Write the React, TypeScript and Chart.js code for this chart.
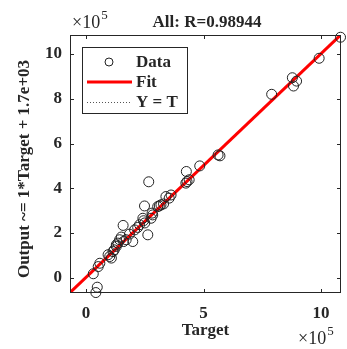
import React, { useEffect, useRef } from "react";
import { Chart, registerables } from "chart.js";

Chart.register(...registerables);

// values in units of 1e5
const targets = [
  0.42, 0.48, 0.31, 0.52, 0.59, 0.94, 1.01, 1.08, 1.15, 1.2, 1.29, 1.29, 1.36, 1.43, 1.5,
  1.58, 1.6, 1.71, 1.85, 1.99, 2.07, 2.2, 2.28, 2.42, 2.45, 2.5, 2.49, 2.63, 2.67, 2.77,
  2.81, 2.84, 3.05, 3.12, 3.19, 3.3, 3.4, 3.54, 3.62, 4.25, 4.27, 4.3, 4.39, 4.84, 5.62,
  5.7, 7.9, 8.78, 8.83, 8.96, 9.92, 10.83,
];
const outputs = [
  -0.66, -0.42, 0.18, 0.5, 0.65, 1.03, 0.95, 0.88, 1.17, 1.25, 1.4, 1.47, 1.55, 1.7, 1.82,
  2.34, 1.62, 1.7, 1.95, 1.62, 2.14, 2.25, 2.37, 2.66, 2.55, 2.45, 3.21, 1.92, 4.29, 2.66,
  2.89, 2.81, 3.18, 3.21, 3.26, 3.3, 3.63, 3.56, 3.7, 4.23, 4.75, 4.3, 4.38, 5.0, 5.49,
  5.45, 8.2, 8.94, 8.57, 8.79, 9.81, 10.75,
];
const axisMin = -0.68;
const axisMax = 10.85;
const fitSlope = 1;
const fitIntercept = 0.017;
const xTickValues = [0, 5, 10];
const yTickValues = [0, 2, 4, 6, 8, 10];
const titleText = "All: R=0.98944";
const xLabel = "Target";
const yLabel = "Output ~= 1*Target + 1.7e+03";
const legendLabels = ["Data", "Fit", "Y = T"];

const SERIF = "'Liberation Serif', 'Times New Roman', serif";

const decorPlugin = {
  id: "decor",
  afterDraw(chart: any) {
    const ctx = chart.ctx as CanvasRenderingContext2D;
    const a = chart.chartArea;
    const xs = chart.scales.x;
    const ys = chart.scales.y;
    ctx.save();
    // box
    ctx.strokeStyle = "#262626";
    ctx.lineWidth = 1;
    ctx.strokeRect(a.left + 0.5, a.top + 0.5, a.right - a.left - 1, a.bottom - a.top - 1);
    // inward ticks
    ctx.beginPath();
    const tl = 4;
    xTickValues.forEach((v) => {
      const px = Math.round(xs.getPixelForValue(v)) + 0.5;
      ctx.moveTo(px, a.bottom);
      ctx.lineTo(px, a.bottom - tl);
      ctx.moveTo(px, a.top);
      ctx.lineTo(px, a.top + tl);
    });
    yTickValues.forEach((v) => {
      const py = Math.round(ys.getPixelForValue(v)) + 0.5;
      ctx.moveTo(a.left, py);
      ctx.lineTo(a.left + tl, py);
      ctx.moveTo(a.right, py);
      ctx.lineTo(a.right - tl, py);
    });
    ctx.stroke();

    ctx.fillStyle = "#262626";
    // title
    ctx.font = `bold 17px ${SERIF}`;
    ctx.textAlign = "center";
    ctx.textBaseline = "alphabetic";
    ctx.fillText(titleText, 207, 27);
    // x label
    ctx.textBaseline = "middle";
    ctx.fillText(xLabel, (a.left + a.right) / 2, 331);
    // y label
    ctx.save();
    ctx.translate(25, 169);
    ctx.rotate(-Math.PI / 2);
    ctx.fillText(yLabel, 0, 0);
    ctx.restore();

    // x10^5 multipliers
    const drawMult = (x: number, y: number) => {
      ctx.textAlign = "left";
      ctx.textBaseline = "alphabetic";
      ctx.font = `18px ${SERIF}`;
      ctx.fillText("\u00d710", x, y);
      const w = ctx.measureText("\u00d710").width;
      ctx.font = `13px ${SERIF}`;
      ctx.fillText("5", x + w + 1, y - 9);
    };
    drawMult(72, 28);
    drawMult(298, 344);

    // legend
    const lx = 82, ly = 47, lw = 105, lh = 66;
    ctx.fillStyle = "#ffffff";
    ctx.fillRect(lx, ly, lw, lh);
    ctx.strokeStyle = "#262626";
    ctx.lineWidth = 1;
    ctx.strokeRect(lx + 0.5, ly + 0.5, lw, lh);
    const rows = [62, 82, 102];
    // data marker
    ctx.strokeStyle = "#222";
    ctx.beginPath();
    ctx.arc(109, rows[0], 4, 0, Math.PI * 2);
    ctx.stroke();
    // fit line
    ctx.strokeStyle = "#ff0000";
    ctx.lineWidth = 3;
    ctx.beginPath();
    ctx.moveTo(87, rows[1]);
    ctx.lineTo(132, rows[1]);
    ctx.stroke();
    // Y=T line
    ctx.strokeStyle = "#555";
    ctx.lineWidth = 1;
    ctx.setLineDash([1, 2]);
    ctx.beginPath();
    ctx.moveTo(87, rows[2] + 0.5);
    ctx.lineTo(132, rows[2] + 0.5);
    ctx.stroke();
    ctx.setLineDash([]);
    ctx.fillStyle = "#262626";
    ctx.font = `bold 17px ${SERIF}`;
    ctx.textAlign = "left";
    ctx.textBaseline = "middle";
    legendLabels.forEach((t, i) => ctx.fillText(t, 136, rows[i] + 1));
    ctx.restore();
  },
};

export default function App() {
  const ref = useRef<HTMLCanvasElement | null>(null);
  useEffect(() => {
    if (!ref.current) return;
    const points = targets.map((t, i) => ({ x: t, y: outputs[i] }));
    const fitLine = [
      { x: axisMin, y: fitSlope * axisMin + fitIntercept },
      { x: axisMax, y: fitSlope * axisMax + fitIntercept },
    ];
    const idLine = [
      { x: axisMin, y: axisMin },
      { x: axisMax, y: axisMax },
    ];
    const chart = new Chart(ref.current, {
      type: "scatter",
      data: {
        datasets: [
          {
            label: legendLabels[0],
            data: points,
            pointStyle: "circle",
            pointRadius: 5,
            borderColor: "#222",
            backgroundColor: "rgba(0,0,0,0)",
            borderWidth: 1,
            clip: 8,
          } as any,
          {
            label: legendLabels[1],
            data: fitLine,
            showLine: true,
            borderColor: "#ff0000",
            borderWidth: 3,
            pointRadius: 0,
          },
          {
            label: legendLabels[2],
            data: idLine,
            showLine: true,
            borderColor: "#333",
            borderWidth: 1,
            borderDash: [1, 2],
            pointRadius: 0,
          },
        ],
      },
      options: {
        responsive: false,
        animation: false,
        layout: { padding: { top: 35, left: 0, right: 4, bottom: 0 } },
        plugins: { legend: { display: false }, tooltip: { enabled: false }, title: { display: false } },
        scales: {
          x: {
            type: "linear",
            min: axisMin,
            max: axisMax,
            afterFit: (s: any) => {
              s.height = 56;
            },
            afterBuildTicks: (s: any) => {
              s.ticks = xTickValues.map((v) => ({ value: v }));
            },
            grid: { display: false, drawTicks: false },
            border: { display: false },
            ticks: {
              color: "#262626",
              padding: 10,
              maxRotation: 0,
              font: { family: SERIF, size: 17, weight: "bold" },
            },
          },
          y: {
            type: "linear",
            min: axisMin,
            max: axisMax,
            afterFit: (s: any) => {
              s.width = 70;
            },
            afterBuildTicks: (s: any) => {
              s.ticks = yTickValues.map((v) => ({ value: v }));
            },
            grid: { display: false, drawTicks: false },
            border: { display: false },
            ticks: {
              color: "#262626",
              padding: 8,
              font: { family: SERIF, size: 17, weight: "bold" },
            },
          },
        },
      },
      plugins: [decorPlugin],
    });
    return () => chart.destroy();
  }, []);
  return (
    <div style={{ position: "fixed", left: 0, top: 0, width: 347, height: 349, background: "#fff" }}>
      <canvas ref={ref} width={347} height={349} style={{ width: 347, height: 349 }} />
    </div>
  );
}
